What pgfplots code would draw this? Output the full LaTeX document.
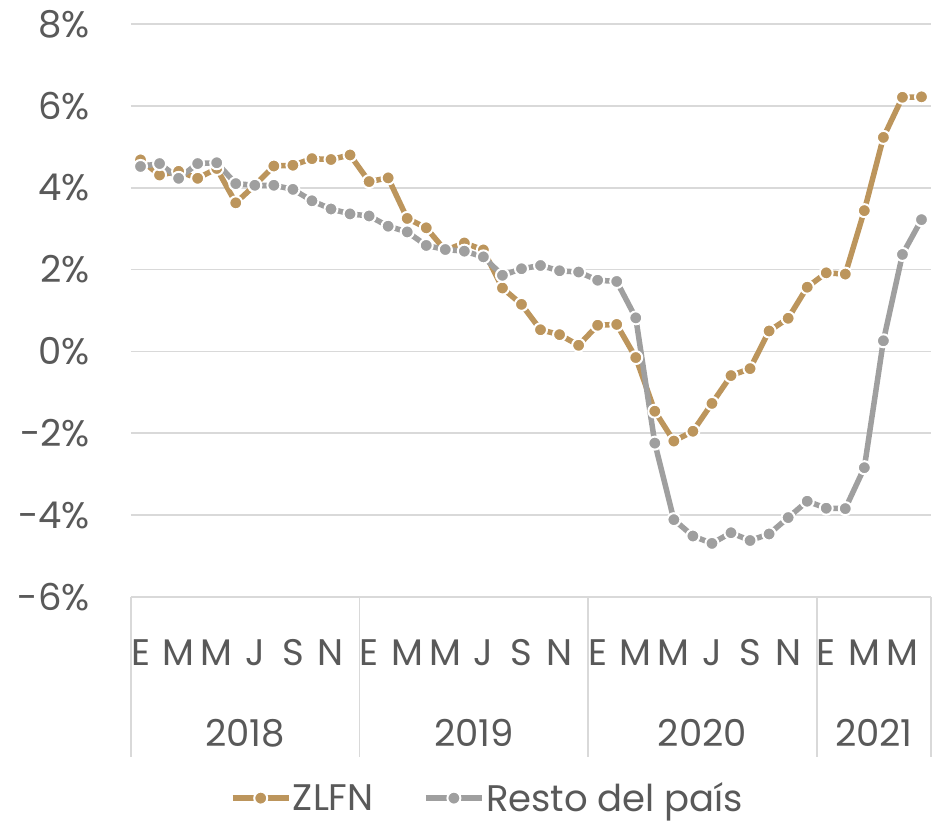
\documentclass[border=0pt]{standalone}
\usepackage{pgfplots}
\pgfplotsset{compat=1.18}
\usepackage{fontspec}
\setmainfont{Poppins}
\definecolor{gold}{HTML}{BC955C}
\definecolor{grisl}{HTML}{9F9F9F}
\definecolor{txt}{HTML}{595959}
\definecolor{gridc}{HTML}{D9D9D9}
\newcommand{\cf}{\fontsize{37bp}{44bp}\selectfont}
\begin{document}
\begin{tikzpicture}
\path[use as bounding box] (-131bp,-227bp) rectangle (807bp,597bp);
\begin{axis}[
  scale only axis, width=800bp, height=573bp,
  at={(0,0)}, anchor=south west,
  xmin=-0.5, xmax=41.5, ymin=-6, ymax=8,
  axis line style={draw=none},
  tick style={draw=none},
  ymajorgrids, grid style={gridc, line width=1.6bp},
  ytick={-6,-4,...,8},
  yticklabels={-6\%,-4\%,-2\%,0\%,2\%,4\%,6\%,8\%},
  yticklabel style={anchor=east, inner sep=0pt, xshift=-41bp},
  xtick={0,2,...,40},
  xticklabels={E,M,M,J,S,N,E,M,M,J,S,N,E,M,M,J,S,N,E,M,M},
  xticklabel style={anchor=base, inner sep=0pt, yshift=-68bp},
  ticklabel style={font=\cf, text=txt},
  clip=false,
  legend columns=2,
  legend style={draw=none, fill=none, at={(0.4455,-0.351)}, anchor=center,
    font=\cf, text=txt, nodes={inner sep=1.5bp},
    /tikz/every even column/.append style={column sep=48bp}},
  legend image code/.code={\draw[#1, mark repeat=2, mark phase=2] plot coordinates {(0bp,0bp) (28bp,0bp) (56bp,0bp)};},
]
\addplot[gold, line width=5.5bp, mark=*, mark size=6.5bp,
  mark options={fill=gold, draw=white, line width=2bp}] coordinates {
(0,4.68) (1,4.31) (2,4.40) (3,4.23) (4,4.47) (5,3.63) (6,4.06) (7,4.53)
(8,4.55) (9,4.71) (10,4.69) (11,4.80) (12,4.15) (13,4.24) (14,3.25) (15,3.02)
(16,2.47) (17,2.65) (18,2.48) (19,1.55) (20,1.15) (21,0.53) (22,0.41) (23,0.15)
(24,0.64) (25,0.66) (26,-0.15) (27,-1.46) (28,-2.19) (29,-1.95) (30,-1.27) (31,-0.59)
(32,-0.42) (33,0.50) (34,0.81) (35,1.57) (36,1.92) (37,1.89) (38,3.44) (39,5.23)
(40,6.21) (41,6.22)};
\addlegendentry{ZLFN}
\addplot[grisl, line width=5.5bp, mark=*, mark size=6.5bp,
  mark options={fill=grisl, draw=white, line width=2bp}] coordinates {
(0,4.52) (1,4.59) (2,4.23) (3,4.59) (4,4.61) (5,4.10) (6,4.06) (7,4.06)
(8,3.96) (9,3.68) (10,3.48) (11,3.36) (12,3.31) (13,3.06) (14,2.92) (15,2.59)
(16,2.49) (17,2.45) (18,2.31) (19,1.86) (20,2.02) (21,2.10) (22,1.97) (23,1.94)
(24,1.74) (25,1.71) (26,0.82) (27,-2.24) (28,-4.11) (29,-4.51) (30,-4.69) (31,-4.43)
(32,-4.62) (33,-4.46) (34,-4.06) (35,-3.66) (36,-3.83) (37,-3.84) (38,-2.84) (39,0.26)
(40,2.37) (41,3.22)};
\addlegendentry{Resto del país}
\draw[gridc, line width=1.6bp] (axis cs:-0.5,-6) -- ([yshift=-160bp]axis cs:-0.5,-6);
\draw[gridc, line width=1.6bp] (axis cs:11.5,-6) -- ([yshift=-160bp]axis cs:11.5,-6);
\draw[gridc, line width=1.6bp] (axis cs:23.5,-6) -- ([yshift=-160bp]axis cs:23.5,-6);
\draw[gridc, line width=1.6bp] (axis cs:35.5,-6) -- ([yshift=-160bp]axis cs:35.5,-6);
\draw[gridc, line width=1.6bp] (axis cs:41.5,-6) -- ([yshift=-160bp]axis cs:41.5,-6);
\node[anchor=base, text=txt, font=\cf, inner sep=0pt] at ([yshift=-149bp]axis cs:5.5,-6) {2018};
\node[anchor=base, text=txt, font=\cf, inner sep=0pt] at ([yshift=-149bp]axis cs:17.5,-6) {2019};
\node[anchor=base, text=txt, font=\cf, inner sep=0pt] at ([yshift=-149bp]axis cs:29.5,-6) {2020};
\node[anchor=base, text=txt, font=\cf, inner sep=0pt] at ([yshift=-149bp]axis cs:38.5,-6) {2021};
\end{axis}
\end{tikzpicture}
\end{document}
